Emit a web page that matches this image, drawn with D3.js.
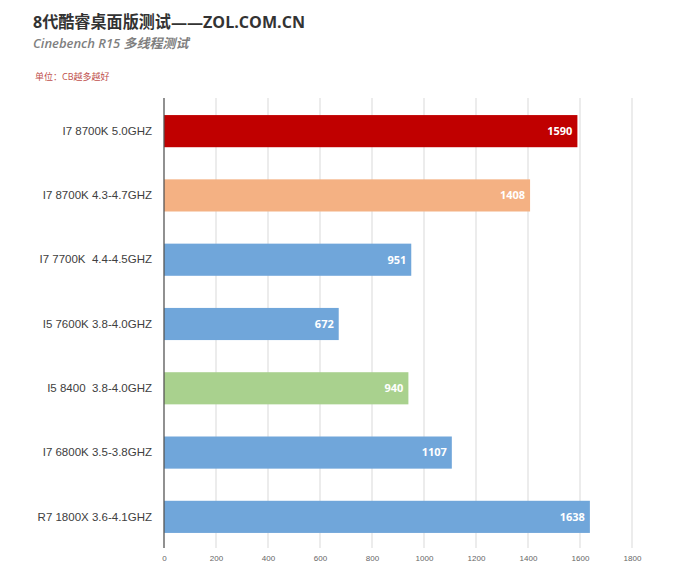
<!DOCTYPE html>
<html><head><meta charset="utf-8">
<script src="https://cdn.jsdelivr.net/npm/d3@7"></script>
<style>body{margin:0;background:#fff;}</style>
</head><body>
<script>
const categories = ["I7 8700K 5.0GHZ","I7 8700K 4.3-4.7GHZ","I7 7700K  4.4-4.5GHZ","I5 7600K 3.8-4.0GHZ","I5 8400  3.8-4.0GHZ","I7 6800K 3.5-3.8GHZ","R7 1800X 3.6-4.1GHZ"];
const values = [1590,1408,951,672,940,1107,1638];
const barColors = ["#C00000","#F4B183","#70A6DA","#70A6DA","#A9D18E","#70A6DA","#70A6DA"];
const tickValues = [0,200,400,600,800,1000,1200,1400,1600,1800];

const W=679,H=577;
const svg=d3.select("body").append("svg").attr("width",W).attr("height",H)
  .style("font-family","'Open Sans','Noto Sans CJK SC',sans-serif");

const x=d3.scaleLinear().domain([0,1800]).range([164,632]);
const y=d3.scaleBand().domain(categories).range([99,549]).paddingInner(0.5).paddingOuter(0.25);

// gridlines
svg.append("g").selectAll("line").data(tickValues.slice(1)).join("line")
  .attr("x1",d=>x(d)).attr("x2",d=>x(d)).attr("y1",98).attr("y2",548)
  .attr("stroke","#d9d9d9").attr("stroke-width",1);

// bars
svg.append("g").selectAll("rect").data(values).join("rect")
  .attr("x",x(0)).attr("y",(d,i)=>y(categories[i]))
  .attr("width",d=>x(d)-x(0)).attr("height",y.bandwidth())
  .attr("fill",(d,i)=>barColors[i]);

// value labels
svg.append("g").selectAll("text").data(values).join("text")
  .attr("x",d=>x(d)-5).attr("y",(d,i)=>y(categories[i])+y.bandwidth()/2)
  .attr("dy","0.35em").attr("text-anchor","end")
  .attr("fill","#fff").attr("font-weight","bold").attr("font-size",11)
  .text(d=>d);

// x axis
const xa=d3.axisBottom(x).tickValues(tickValues).tickFormat(d3.format("d")).tickSize(0).tickPadding(6);
const gx=svg.append("g").attr("transform","translate(0,549)").call(xa);
gx.select(".domain").remove();
gx.selectAll("text").attr("font-size",8).attr("fill","#666");

// y axis line
svg.append("line").attr("x1",x(0)).attr("x2",x(0)).attr("y1",98).attr("y2",548)
  .attr("stroke","#555").attr("stroke-width",1.3);

// category labels
const ya=d3.axisLeft(y).tickSize(0).tickPadding(12);
const gy=svg.append("g").attr("transform",`translate(${x(0)},0)`).call(ya);
gy.select(".domain").remove();
gy.selectAll("text").attr("font-size",11.5).attr("fill","#404040")
  .style("white-space","pre").attr("xml:space","preserve");

// titles
svg.append("text").attr("x",33).attr("y",28).attr("font-size",16.5).attr("font-weight","bold")
  .attr("fill","#333").attr("textLength",272).attr("lengthAdjust","spacingAndGlyphs")
  .text("8代酷睿桌面版测试——ZOL.COM.CN");
svg.append("text").attr("x",33).attr("y",48).attr("font-size",13).attr("font-style","italic")
  .attr("font-weight","600").attr("fill","#7f7f7f").text("Cinebench R15 多线程测试");
svg.append("text").attr("x",35).attr("y",80).attr("font-size",9)
  .attr("fill","#C0504D").text("单位：CB越多越好");
</script>
</body></html>
